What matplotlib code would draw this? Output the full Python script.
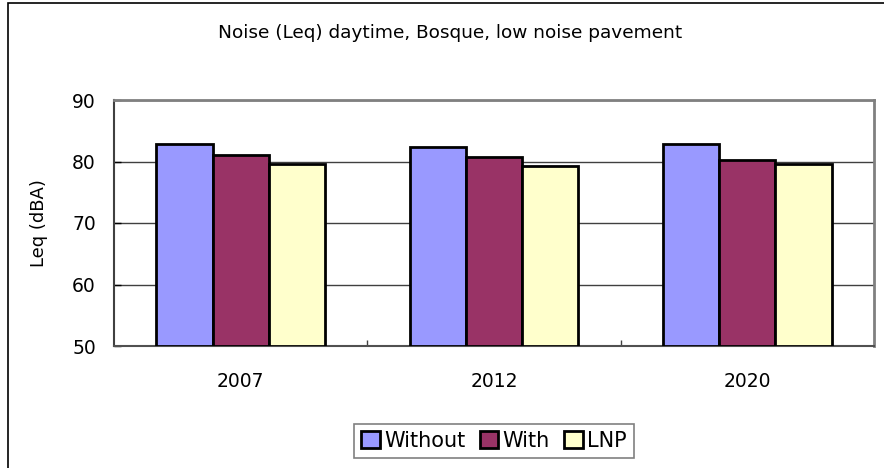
import numpy as np
import matplotlib.pyplot as plt
from matplotlib.patches import Rectangle

# data
years = ["2007", "2012", "2020"]
series = ["Without", "With", "LNP"]
without = [82.8, 82.4, 82.8]
with_ = [81.1, 80.7, 80.3]
lnp = [79.6, 79.2, 79.6]
colors = ["#9999FF", "#993366", "#FFFFCC"]

fig = plt.figure(figsize=(8.84, 4.68), dpi=100)

# outer chart border (runs off the right and bottom edge)
fig.patches.append(Rectangle((8/884, -0.05), 1.0, 1 - 3/468 + 0.05,
                             transform=fig.transFigure, fill=False,
                             edgecolor="black", linewidth=1.2))

ax = fig.add_axes([114/884, 1 - 346/468, 760/884, 246/468])

x = np.arange(len(years))
w = 1/4.5
for i, (name, vals) in enumerate(zip(series, [without, with_, lnp])):
    ax.bar(x + (i - 1)*w, np.array(vals) - 50, w, bottom=50, color=colors[i],
           edgecolor="black", linewidth=2, label=name, zorder=3)

ax.set_xlim(-0.5, 2.5)
ax.set_ylim(50, 90)
ax.set_yticks([50, 60, 70, 80, 90])
ax.yaxis.grid(True, color="#404040", linewidth=1.0, zorder=0)
ax.set_axisbelow(True)

ax.set_xticks(x)
ax.set_xticklabels(years)
ax.set_xticks([0.5, 1.5], minor=True)
ax.tick_params(axis="x", which="major", length=0, pad=19, labelsize=13.5)
ax.tick_params(axis="x", which="minor", direction="in", length=4, width=1, color="#404040")
ax.tick_params(axis="y", direction="in", length=5, width=1, pad=13, labelsize=13.5)

for s in ["top", "right"]:
    ax.spines[s].set_color("#808080")
    ax.spines[s].set_linewidth(2)
ax.spines["left"].set_color("#404040")
ax.spines["left"].set_linewidth(1.5)
ax.spines["bottom"].set_color("#505050")
ax.spines["bottom"].set_linewidth(1.5)

ax.set_ylabel("Leq (dBA)", fontsize=13)
ax.yaxis.set_label_coords((48 - 114)/760, 0.5)

fig.text(450/884, 1 - 33/468, "Noise (Leq) daytime, Bosque, low noise pavement",
         ha="center", va="center", fontsize=13.3)

leg = fig.legend(loc="center", bbox_to_anchor=(494/884, 1 - 441/468), ncol=3,
                 fontsize=15, frameon=True, fancybox=False, edgecolor="#606060",
                 handlelength=0.9, handleheight=0.9, handletextpad=0.2,
                 columnspacing=0.7, borderpad=0.35, borderaxespad=0)
leg.get_frame().set_linewidth(1.2)

fig.savefig("out.png", dpi=100)
